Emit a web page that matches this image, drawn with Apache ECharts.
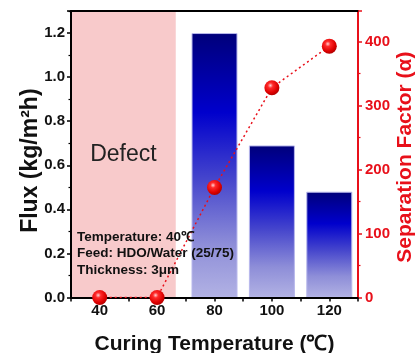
<!DOCTYPE html>
<html>
<head>
<meta charset="utf-8">
<script src="https://cdn.jsdelivr.net/npm/echarts@6/dist/echarts.min.js"></script>
<style>
html,body{margin:0;padding:0;background:#fff;}
#chart{width:415px;height:353px;}
</style>
</head>
<body>
<div id="chart"></div>
<script>
// curing temperature (℃)
var temps = [40, 60, 80, 100, 120]
// flux (kg/m2h), defect samples have no flux
var flux = [null, null, 1.2, 0.69, 0.48]
// separation factor
var sepFactor = [0, 0, 172, 328, 393]
var defectRange = [30, 66.5]
var notes = ['Temperature: 40℃', 'Feed: HDO/Water (25/75)', 'Thickness: 3μm']

var FONT = 'Liberation Sans, Arial, sans-serif'
var RED = '#e8101a'

var myChart = echarts.init(document.getElementById('chart'))

var barData = []
var lineData = []
temps.forEach(function (t, i) {
	if (flux[i] != null) barData.push([t, flux[i]])
	lineData.push([t, sepFactor[i]])
})

var option = {
	animation: false,
	grid: { left: 71, right: 57, top: 11, bottom: 55.5, outerBoundsMode: 'none', containLabel: false },
	xAxis: [
		{
			type: 'value',
			min: 30, max: 130, interval: 10,
			z: 10,
			name: 'Curing Temperature (℃)',
			nameLocation: 'middle',
			nameGap: 36,
			nameTextStyle: { fontFamily: FONT, fontWeight: 'bold', fontSize: 21, color: '#111' },
			axisLine: { lineStyle: { color: '#000', width: 2 } },
			axisTick: { show: true, length: 4, lineStyle: { color: '#000', width: 1.5 } },
			axisLabel: {
				margin: 6,
				fontFamily: FONT, fontWeight: 'bold', fontSize: 15, color: '#111',
				formatter: function (v) {
					return (v % 20 === 0 && v >= 40 && v <= 120) ? String(v) : ''
				}
			},
			splitLine: { show: false }
		},
		{
			type: 'value',
			position: 'top',
			min: 30, max: 130,
			z: 10,
			axisLine: { onZero: false, lineStyle: { color: '#000', width: 2 } },
			axisTick: { show: false },
			axisLabel: { show: false },
			splitLine: { show: false }
		}
	],
	yAxis: [
		{
			type: 'value',
			min: 0, max: 1.3, interval: 0.2,
			z: 10,
			name: 'Flux (kg/m²h)  ', // trailing spaces nudge the title down a bit
			nameLocation: 'middle',
			nameGap: 29,
			nameMoveOverlap: false,
			nameTextStyle: { fontFamily: FONT, fontWeight: 'bold', fontSize: 23, color: '#111' },
			axisLine: { show: true, lineStyle: { color: '#000', width: 2 } },
			axisTick: { show: true, length: 4, lineStyle: { color: '#000', width: 1.5 } },
			minorTick: { show: true, splitNumber: 2, length: 2.5, lineStyle: { color: '#000', width: 1.2 } },
			axisLabel: {
				margin: 6, showMaxLabel: false,
				fontFamily: FONT, fontWeight: 'bold', fontSize: 15, color: '#111',
				formatter: function (v) { return v.toFixed(1) }
			},
			splitLine: { show: false }
		},
		{
			type: 'value',
			min: 0, max: 448, interval: 100,
			z: 10,
			name: 'Separation Factor (α) ',
			nameLocation: 'middle',
			nameGap: 37,
			nameRotate: 90,
			nameMoveOverlap: false,
			nameTextStyle: { fontFamily: FONT, fontWeight: 'bold', fontSize: 21, color: RED },
			axisLine: { show: true, lineStyle: { color: RED, width: 2 } },
			axisTick: { show: true, length: 4, lineStyle: { color: RED, width: 1.5 } },
			minorTick: { show: true, splitNumber: 2, length: 2.5, lineStyle: { color: RED, width: 1.2 } },
			axisLabel: {
				margin: 7, showMaxLabel: false,
				fontFamily: FONT, fontWeight: 'bold', fontSize: 15, color: RED
			},
			splitLine: { show: false }
		}
	],
	graphic: [
		{
			type: 'text',
			left: 77,
			top: 229,
			z: 100,
			style: {
				text: notes.join('\n'),
				font: 'bold 13.5px ' + FONT,
				lineHeight: 16.5,
				fill: '#111'
			}
		}
	],
	series: [
		{
			name: 'Flux',
			type: 'bar',
			xAxisIndex: 0,
			yAxisIndex: 0,
			barWidth: 46,
			z: 2,
			itemStyle: {
				borderColor: '#b8b8ec',
				borderWidth: 1,
				color: new echarts.graphic.LinearGradient(0, 0, 0, 1, [
					{ offset: 0, color: '#00007a' },
					{ offset: 0.3, color: '#0000cc' },
					{ offset: 0.55, color: '#4545cc' },
					{ offset: 0.8, color: '#8e8ed8' },
					{ offset: 1, color: '#b2b2e4' }
				])
			},
			markArea: {
				silent: true,
				z: 1,
				itemStyle: { color: '#f8cacb' },
				label: {
					show: true,
					position: 'inside',
					fontFamily: FONT,
					fontSize: 23,
					color: '#222'
				},
				data: [[
					{ name: 'Defect', xAxis: defectRange[0], yAxis: 0 },
					{ xAxis: defectRange[1], yAxis: 1.3 }
				]]
			},
			data: barData
		},
		{
			name: 'Separation Factor',
			type: 'line',
			xAxisIndex: 0,
			yAxisIndex: 1,
			z: 20,
			symbol: 'circle',
			symbolSize: 15,
			lineStyle: { color: RED, width: 1.5, type: [2, 3] },
			itemStyle: {
				color: new echarts.graphic.RadialGradient(0.4, 0.35, 0.7, [
					{ offset: 0, color: '#ffd0d0' },
					{ offset: 0.25, color: '#ff2a2a' },
					{ offset: 0.7, color: '#dd0000' },
					{ offset: 1, color: '#a80000' }
				])
			},
			data: lineData
		}
	]
}
myChart.setOption(option)
</script>
</body>
</html>
